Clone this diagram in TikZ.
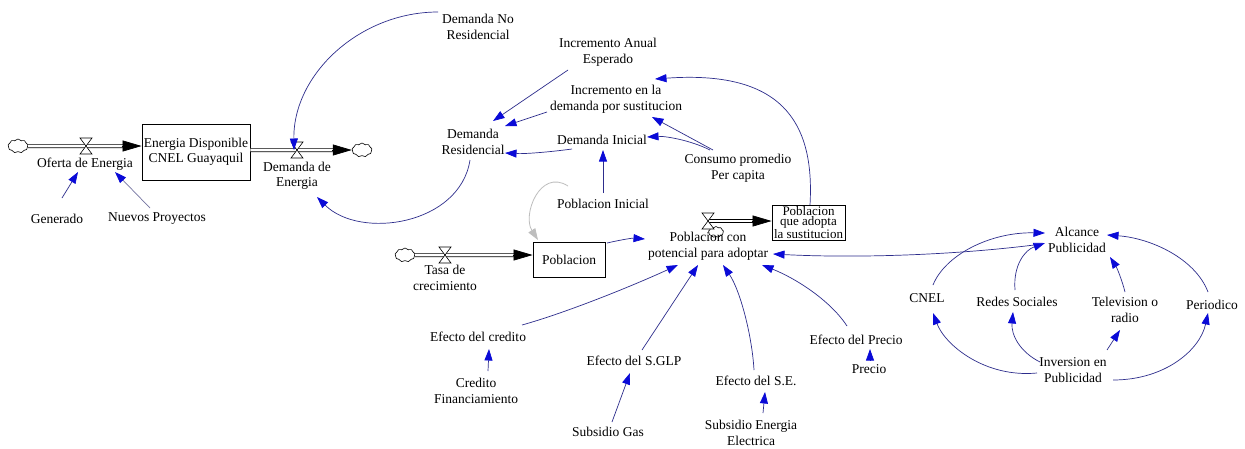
\documentclass[tikz,border=0pt]{standalone}
\usepackage{fontspec}
\setmainfont{Liberation Serif}
\newfontfamily\vsfont{Liberation Serif}
\usetikzlibrary{arrows.meta,calc,shapes.symbols}
\definecolor{lnav}{RGB}{45,45,140}
\definecolor{hblue}{RGB}{10,10,215}
\definecolor{lgray}{RGB}{115,115,160}
\definecolor{pgray}{RGB}{190,190,190}
\tikzset{
  lbl/.style={font=\vsfont\fontsize{13.5}{15.5}\selectfont, align=center, inner sep=0pt},
  stock/.style={draw=black, line width=0.8pt, font=\vsfont\fontsize{13.5}{15.5}\selectfont, align=center, inner sep=0pt},
  cloudnode/.style={cloud, cloud puffs=9, cloud puff arc=110, draw=black, line width=0.6pt, minimum width=20pt, minimum height=14pt, inner sep=0pt, aspect=1.5},
  valve/.style={draw=black, fill=white, line width=0.6pt},
  link/.style={draw=lnav, line width=0.7pt, -{Triangle[length=11.5pt,width=8pt,color=hblue]}},
  glink/.style={draw=pgray, line width=0.8pt, -{Triangle[length=11.5pt,width=8pt,color=pgray]}},
  pipe/.style={draw=black, double=white, double distance=2.6pt, line width=0.7pt},
  pipetip/.style={draw=black, line width=0.7pt, -{Triangle[length=19pt,width=11pt]}}
}
\begin{document}
\begin{tikzpicture}[x=1pt,y=-1pt]
\useasboundingbox[fill=white] (0,0) rectangle (1245,448);

% ---------- stocks, clouds, valve positions ----------
\node[cloudnode] (cl1) at (18,146) {};
\coordinate (vOf) at (86,146);
\node[lbl] (ofe) at (85,164) {Oferta de Energia};
\node[stock, minimum width=108pt, minimum height=56pt] (stE) at (196,152) {Energia Disponible\\CNEL Guayaquil};
\coordinate (vDe) at (297,150);
\node[lbl] (dde) at (297,176) {Demanda de\\Energia};
\node[cloudnode] (cl2) at (362,150) {};

\node[cloudnode] (cl3) at (405,255) {};
\coordinate (vTc) at (445,255);
\node[lbl] (tdc) at (445,278) {Tasa de\\crecimiento};
\node[stock, minimum width=72pt, minimum height=35pt] (pob) at (569,259.5) {Poblacion};

\coordinate (vAd) at (708,221);
\node[cloudnode, minimum width=15pt, minimum height=11pt] (cl4) at (716,232) {};
\node[stock, minimum width=73pt, minimum height=35pt, font=\vsfont\fontsize{13}{10.5}\selectfont] (pqa) at (808.5,222.5) {Poblacion\\que adopta\\la sustitucion};

% ---------- pipes ----------
\draw[pipe] (cl1.east) -- ($(cl1 -| stE.west)+(-9,0)$);
\draw[pipetip] ($(cl1 -| stE.west)+(-20,0)$) -- (cl1 -| stE.west);
\draw[pipe] (cl2 -| stE.east) -- ($(cl2.west)+(-9,0)$);
\draw[pipetip] ($(cl2.west)+(-20,0)$) -- (cl2.west);
\draw[pipe] (cl3.east) -- ($(cl3 -| pob.west)+(-9,0)$);
\draw[pipetip] ($(cl3 -| pob.west)+(-20,0)$) -- (cl3 -| pob.west);
\draw[pipe] (vAd) -- ($(vAd -| pqa.west)+(-9,0)$);
\draw[pipetip] ($(vAd -| pqa.west)+(-20,0)$) -- (vAd -| pqa.west);

% ---------- valves ----------
\foreach \v in {vOf,vDe,vTc,vAd}{
  \draw[valve] ($(\v)+(-6,-8)$) -- ++(12,0) -- ++(-12,16) -- ++(12,0) -- cycle;
}

% ---------- auxiliaries ----------
\node[lbl] (gen) at (57,219) {Generado};
\node[lbl] (nue) at (157,219) {Nuevos Proyectos};
\node[lbl] (dnr) at (478,27) {Demanda No\\Residencial};
\node[lbl] (dres) at (473,142) {Demanda\\Residencial};
\node[lbl] (iae) at (608,52) {Incremento Anual\\Esperado};
\node[lbl] (ids) at (616,99) {Incremento en la\\demanda por sustitucion};
\node[lbl] (din) at (602,140) {Demanda Inicial};
\node[lbl] (cpp) at (738,168) {Consumo promedio\\Per capita};
\node[lbl] (pin) at (603,204) {Poblacion Inicial};
\node[lbl] (pcp) at (708,246) {Poblacion con\\potencial para adoptar};
\node[lbl] (alc) at (1077,240) {Alcance\\Publicidad};
\node[lbl] (cnel) at (927,298) {CNEL};
\node[lbl] (redes) at (1017,302) {Redes Sociales};
\node[lbl] (tv) at (1125,310) {Television o\\radio};
\node[lbl] (per) at (1212,305) {Periodico};
\node[lbl] (inv) at (1073,370) {Inversion en\\Publicidad};
\node[lbl] (edc) at (478,337) {Efecto del credito};
\node[lbl] (crf) at (476,391) {Credito\\Financiamiento};
\node[lbl] (eglp) at (634,361) {Efecto del S.GLP};
\node[lbl] (sg) at (608,432) {Subsidio Gas};
\node[lbl] (ese) at (756,381) {Efecto del S.E.};
\node[lbl] (see) at (751,433) {Subsidio Energia\\Electrica};
\node[lbl] (epr) at (856,340) {Efecto del Precio};
\node[lbl] (pre) at (869,369) {Precio};

% ---------- links ----------
\draw[link] ($(gen)+(5,-21)$) -- ($(ofe)+(-7,8)$);
\draw[link, draw=lgray] ($(nue)+(-7,-11)$) -- ($(ofe)+(30,8)$);
\draw[link] ($(dnr)+(-40,-15)$) .. controls (360,12) and (293,74) .. ($(vDe)+(-3,0)$);
\draw[link] ($(dres)+(-3,18)$) .. controls (460,225) and (360,240) .. ($(dde)+(20,21)$);
\draw[link] ($(iae)+(-40,18)$) -- ($(dres)+(20,-21)$);
\draw[link] ($(ids)+(-69,13)$) -- ($(dres)+(32,-16)$);
\draw[link] ($(din)+(-30,9)$) .. controls (550,152) and (525,154) .. ($(dres)+(32,11)$);
\draw[link] ($(pin)+(0,-11)$) -- ($(din)+(1,10)$);
\draw[glink] ($(pin)+(-35,-18)$) .. controls (540,168) and (522,215) .. ($(pob)+(-31,-19.5)$);
\draw[link] ($(pob)+(38,-16.5)$) .. controls (620,240) and (632,238) .. ($(pcp)+(-63,-7)$);
\draw[link] ($(pqa)+(1.5,-17.5)$) .. controls (815,120) and (780,70) .. ($(ids)+(39,-20)$);
\draw[link] ($(cpp)+(-25,-18)$) -- ($(ids)+(36,18)$);
\draw[link] ($(cpp)+(-28,-18)$) .. controls (690,140) and (665,136) .. ($(din)+(45,-3)$);
\draw[link] ($(alc)+(-35,4)$) .. controls (950,256) and (850,258) .. ($(pcp)+(65,8)$);
\draw[link] ($(cnel)+(6,-13)$) .. controls (945,255) and (990,232) .. ($(alc)+(-32,-7)$);
\draw[link] ($(redes)+(-2,-12)$) .. controls (1013,265) and (1025,250) .. ($(alc)+(-32,3)$);
\draw[link] ($(tv)+(0,-18)$) .. controls (1122,280) and (1117,268) .. ($(alc)+(33,17)$);
\draw[link] ($(per)+(-4,-13)$) .. controls (1195,258) and (1150,238) .. ($(alc)+(30,-5)$);
\draw[link] ($(inv)+(-36,3)$) .. controls (985,378) and (945,345) .. ($(cnel)+(6,15)$);
\draw[link] ($(inv)+(-33,-8)$) .. controls (1020,352) and (1011,335) .. ($(redes)+(-4,10)$);
\draw[link] ($(inv)+(34,-20)$) -- ($(tv)+(-5,20)$);
\draw[link] ($(inv)+(40,10)$) .. controls (1165,380) and (1200,350) .. ($(per)+(-4,8)$);
\draw[link] ($(edc)+(44,-12)$) .. controls (565,313) and (630,287) .. ($(pcp)+(-30,19)$);
\draw[link] ($(crf)+(12,-20)$) -- ($(edc)+(11,12)$);
\draw[link] ($(eglp)+(8,-11)$) -- ($(pcp)+(-10,19)$);
\draw[link] ($(sg)+(4,-10)$) -- ($(eglp)+(-4,12)$);
\draw[link] ($(ese)+(-2,-11)$) .. controls (752,335) and (740,290) .. ($(pcp)+(15,19)$);
\draw[link] ($(see)+(12,-20)$) -- ($(ese)+(9,11)$);
\draw[link] ($(epr)+(-9,-14)$) .. controls (830,300) and (795,278) .. ($(pcp)+(54,19)$);
\draw[link] ($(pre)+(1,-9)$) -- ($(epr)+(14,9)$);
\end{tikzpicture}
\end{document}
